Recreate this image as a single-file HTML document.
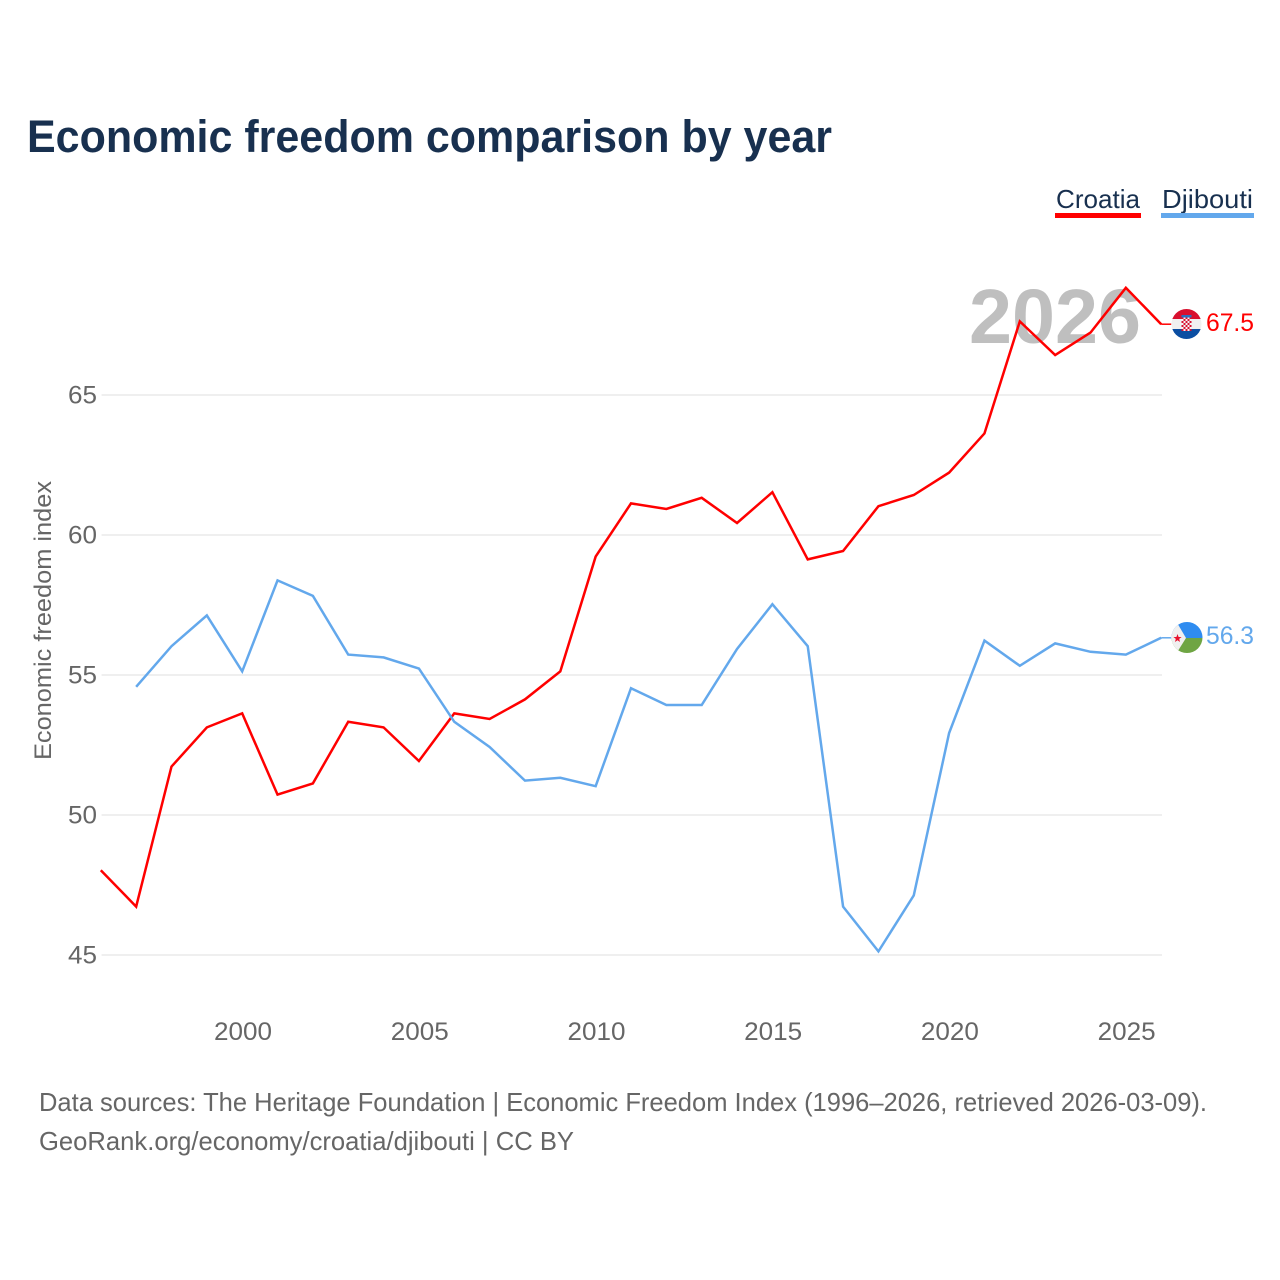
<!DOCTYPE html>
<html lang="en">
<head>
<meta charset="utf-8">
<title>Economic freedom comparison by year</title>
<style>
html,body{margin:0;padding:0;background:#fff;width:1280px;height:1280px;overflow:hidden}
svg{display:block;font-family:"Liberation Sans",sans-serif}
</style>
</head>
<body>
<svg id="chart" width="1280" height="1280" viewBox="0 0 1280 1280" xmlns="http://www.w3.org/2000/svg">
  <defs>
    <clipPath id="clip-hr"><circle cx="1186.5" cy="324" r="15"/></clipPath>
    <clipPath id="clip-dj"><circle cx="1187" cy="637.5" r="15.5"/></clipPath>
    <pattern id="hr-checker" x="1181.5" y="317" width="4" height="4" patternUnits="userSpaceOnUse">
      <rect width="4" height="4" fill="#f4f4f4"/>
      <rect width="2" height="2" fill="#d8102f"/>
      <rect x="2" y="2" width="2" height="2" fill="#d8102f"/>
    </pattern>
  </defs>
  <rect width="1280" height="1280" fill="#fff"/>
  <text x="27" y="152" font-size="45" font-weight="700" fill="#18304f" textLength="805" lengthAdjust="spacingAndGlyphs">Economic freedom comparison by year</text>

  <g>
    <text x="1056" y="208" font-size="26" fill="#18304f" textLength="84" lengthAdjust="spacingAndGlyphs">Croatia</text>
    <rect x="1055" y="213" width="86" height="5" fill="#ff0000"/>
  </g>
  <g>
    <text x="1162" y="208" font-size="26" fill="#18304f" textLength="91" lengthAdjust="spacingAndGlyphs">Djibouti</text>
    <rect x="1161" y="213" width="93" height="5" fill="#63a8ec"/>
  </g>

  <g id="grid"></g>
  <g id="yticks"></g>
  <g id="xticks"></g>
  <text transform="translate(51,760) rotate(-90)" font-size="24" fill="#666" textLength="279" lengthAdjust="spacingAndGlyphs">Economic freedom index</text>

  <text x="969" y="343" font-size="77" font-weight="700" fill="#bfbfbf" textLength="172" lengthAdjust="spacingAndGlyphs">2026</text>

  <g id="series" transform="translate(-0.8,-0.8)"></g>

  <g clip-path="url(#clip-hr)">
    <rect x="1171" y="309" width="31" height="10" fill="#d8102f"/>
    <rect x="1171" y="319" width="31" height="10" fill="#f0f0f0"/>
    <rect x="1171" y="329" width="31" height="10" fill="#0b4ea2"/>
    <rect x="1181.5" y="317" width="10" height="14" fill="url(#hr-checker)"/>
    <rect x="1181.5" y="315" width="10" height="2.5" fill="#2a6fc0"/>
  </g>
  <text x="1206" y="331" font-size="25" fill="#ff0000" textLength="48" lengthAdjust="spacingAndGlyphs">67.5</text>

  <g clip-path="url(#clip-dj)">
    <rect x="1171" y="622" width="32" height="16" fill="#2f8cf0"/>
    <rect x="1171" y="638" width="32" height="16" fill="#6fa543"/>
    <polygon points="1170,621 1176,621 1186,638 1176,654 1170,654" fill="#f0f0f0"/>
    <polygon points="1177.5,634 1178.6,637 1181.6,637 1179.2,638.9 1180,642 1177.5,640.2 1175,642 1175.8,638.9 1173.4,637 1176.4,637" fill="#e8112d"/>
  </g>
  <text x="1206" y="644" font-size="25" fill="#63a8ec" textLength="48" lengthAdjust="spacingAndGlyphs">56.3</text>

  <text x="39" y="1111" font-size="26" fill="#666" textLength="1168" lengthAdjust="spacingAndGlyphs">Data sources: The Heritage Foundation | Economic Freedom Index (1996–2026, retrieved 2026-03-09).</text>
  <text x="39" y="1150" font-size="26" fill="#666" textLength="535" lengthAdjust="spacingAndGlyphs">GeoRank.org/economy/croatia/djibouti | CC BY</text>
</svg>
<script>
var years = [1996,1997,1998,1999,2000,2001,2002,2003,2004,2005,2006,2007,2008,2009,2010,2011,2012,2013,2014,2015,2016,2017,2018,2019,2020,2021,2022,2023,2024,2025,2026];
var croatiaValues = [48.0,46.7,51.7,53.1,53.6,50.7,51.1,53.3,53.1,51.9,53.6,53.4,54.1,55.1,59.2,61.1,60.9,61.3,60.4,61.5,59.1,59.4,61.0,61.4,62.2,63.6,67.6,66.4,67.2,68.8,67.5];
var djiboutiValues = [null,54.55,56.0,57.1,55.1,58.35,57.8,55.7,55.6,55.2,53.3,52.4,51.2,51.3,51.0,54.5,53.9,53.9,55.9,57.5,56.0,46.7,45.1,47.1,52.9,56.2,55.3,56.1,55.8,55.7,56.3];
var yTickValues = [45,50,55,60,65];
var xTickYears = [2000,2005,2010,2015,2020,2025];

var NS = 'http://www.w3.org/2000/svg';
function xScale(year){ return 101.6 + (year - 1996) * (1162 - 101.6) / 30; }
function yScale(value){ return 955 - (value - 45) * 28; }
function make(tag, attrs, parent){
  var el = document.createElementNS(NS, tag);
  for (var k in attrs) el.setAttribute(k, attrs[k]);
  parent.appendChild(el);
  return el;
}
var grid = document.getElementById('grid');
var yticks = document.getElementById('yticks');
var xticks = document.getElementById('xticks');
var seriesGroup = document.getElementById('series');

yTickValues.forEach(function(v){
  var line = make('line', {x1:101.6, x2:1162, y1:yScale(v), y2:yScale(v), stroke:'#efefef', 'stroke-width':2}, grid);
  
  
  var label = make('text', {x:97, y:yScale(v)+8.5, 'text-anchor':'end', 'font-size':25, fill:'#666', textLength:29, lengthAdjust:'spacingAndGlyphs'}, yticks);
  
  
  label.textContent = v;
});
xTickYears.forEach(function(y){
  var label = make('text', {x:xScale(y), y:1040, 'text-anchor':'middle', 'font-size':25, fill:'#666', textLength:58, lengthAdjust:'spacingAndGlyphs'}, xticks);
  
  
  label.textContent = y;
});
function drawSeries(values, color, name){
  var pts = [];
  values.forEach(function(v, i){
    if (v !== null) pts.push(xScale(years[i]).toFixed(2) + ',' + yScale(v).toFixed(2));
  });
  var line = make('polyline', {points:pts.join(' '), fill:'none', stroke:color, 'stroke-width':2.5, 'stroke-linejoin':'miter'}, seriesGroup);
  
  
  var last = values[values.length - 1];
  var lead = make('line', {x1:xScale(years[years.length-1]), x2:1172, y1:yScale(last), y2:yScale(last), stroke:color, 'stroke-width':1.5}, seriesGroup);
  
  
}
drawSeries(croatiaValues, '#ff0000', 'line-croatia');
drawSeries(djiboutiValues, '#63a8ec', 'line-djibouti');
</script>
</body>
</html>
